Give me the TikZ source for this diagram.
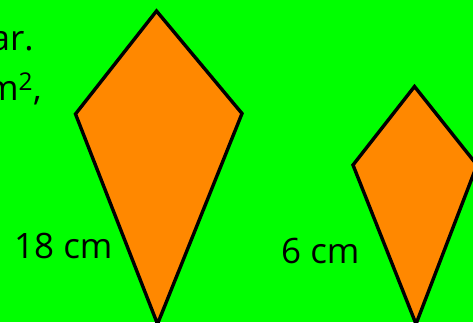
\documentclass[tikz,border=0pt]{standalone}
\usepackage{fontspec}
\setmainfont{Open Sans}
\definecolor{bggreen}{HTML}{00FF00}
\definecolor{kiteorange}{HTML}{FF8800}
\begin{document}
\begin{tikzpicture}[x=1pt,y=-1pt,
  kite/.style={fill=kiteorange,draw=black,line width=3.4pt,line join=miter},
  lbl/.style={inner sep=0pt,font=\fontsize{35}{38}\selectfont}]
\fill[bggreen] (0,0) rectangle (473,322);
\useasboundingbox (0,0) rectangle (473,322);
% large kite
\coordinate (Ltop) at (156.5,11);
\coordinate (Lleft) at (75.5,114);
\coordinate (Lright) at (242,113.5);
\coordinate (Lbot) at (157.5,324);
\draw[kite] (Ltop) -- (Lright) -- (Lbot) -- (Lleft) -- cycle;
% small kite
\coordinate (Stop) at (414.5,86.5);
\coordinate (Sleft) at (353,165);
\coordinate (Sright) at (477,165);
\coordinate (Sbot) at (416,324);
\draw[kite] (Stop) -- (Sright) -- (Sbot) -- (Sleft) -- cycle;
% labels
\node[lbl,anchor=base east] (t1) at (34,50) {ar.};
\node[lbl,anchor=base east] (t2) at (42,100) {m\textsuperscript{2},};
\node[lbl,anchor=base west] (l18) at (14,258) {18 cm};
\node[lbl,anchor=base west] (l6) at (281,263) {6 cm};
\end{tikzpicture}
\end{document}
